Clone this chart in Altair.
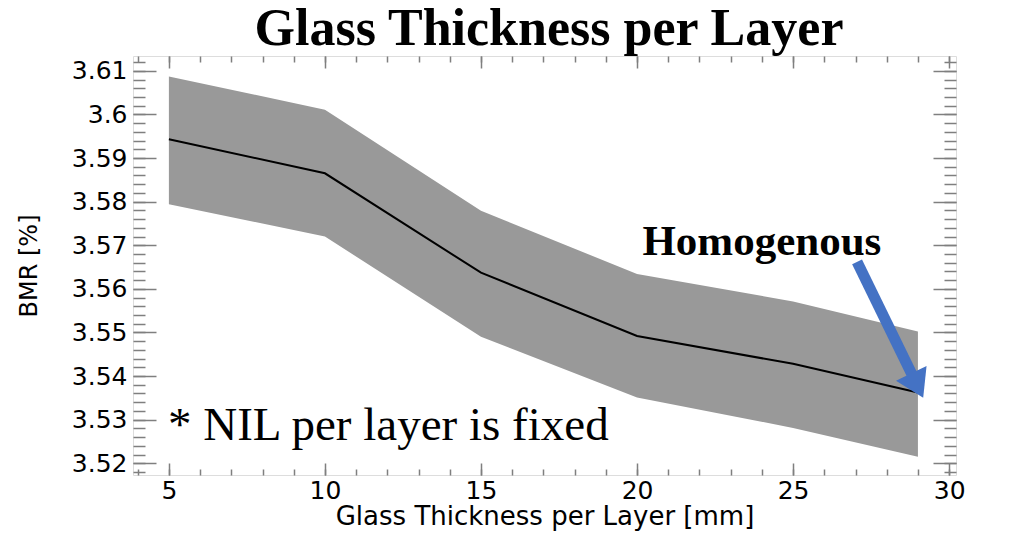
import altair as alt
import pandas as pd

# ---- data ----
thickness = [5, 10, 15, 20, 25, 29]
bmr_mean = [3.5943, 3.5865, 3.5637, 3.5492, 3.5428, 3.5362]
bmr_upper = [3.6087, 3.6011, 3.5779, 3.5634, 3.5571, 3.5502]
bmr_lower = [3.5794, 3.5720, 3.5490, 3.5351, 3.5281, 3.5215]

x_major = [5, 10, 15, 20, 25, 30]
x_minor = list(range(4, 31))
y_major = [3.52, 3.53, 3.54, 3.55, 3.56, 3.57, 3.58, 3.59, 3.60, 3.61]
y_minor = [round(3.518 + 0.002 * i, 3) for i in range(48)]

title_text = ["Glass Thickness per Layer"]
x_title = "Glass Thickness per Layer [mm]"
y_title = "BMR [%]"

note_text = ["* NIL per layer is fixed"]
note_x = [4.97]
note_y = [3.5254]

homog_text = ["Homogenous"]
homog_x = [24.0]
homog_y = [3.5678]

arrow_x = [27.05]
arrow_y = [3.5662]
arrow_x2 = [28.80]
arrow_y2 = [3.5405]
head_x = [28.93]
head_y = [3.5385]

# ---- layout ----
W, H = 823, 419
TICK = "#7f7f7f"
SANS = "DejaVu Sans"
SERIF = "Liberation Serif"

df = pd.DataFrame({"t": thickness, "mean": bmr_mean, "lo": bmr_lower, "hi": bmr_upper})

xs = alt.Scale(domain=[3.85, 30.22], nice=False, zero=False)
ys = alt.Scale(domain=[3.5173, 3.6134], nice=False, zero=False)


def tick_axis(orient, offset, values, size):
    return alt.Axis(orient=orient, offset=offset, values=values, tickSize=size,
                    labels=False, domain=False, grid=False, title=None,
                    tickColor=TICK, tickWidth=1.5)


area = alt.Chart(df).mark_area(color="#999999", opacity=1).encode(
    x=alt.X("t:Q", scale=xs, axis=alt.Axis(
        orient="bottom", values=x_major, ticks=False, domain=False, grid=False,
        labelFont=SANS, labelFontSize=25, labelPadding=3, labelColor="black",
        title=x_title, titleFont=SANS, titleFontSize=26, titleFontWeight="normal",
        titleColor="black", titlePadding=0)),
    y=alt.Y("lo:Q", scale=ys, axis=alt.Axis(
        orient="left", values=y_major, ticks=False, domain=False, grid=False,
        format=".2~f", labelFont=SANS, labelFontSize=25, labelPadding=6,
        labelColor="black", title=y_title, titleFont=SANS, titleFontSize=24,
        titleFontWeight="normal", titleColor="black", titlePadding=30)),
    y2="hi:Q",
)

line = alt.Chart(df).mark_line(color="black", strokeWidth=2).encode(
    x=alt.X("t:Q", scale=xs, axis=tick_axis("top", -H, x_major, 12)),
    y=alt.Y("mean:Q", scale=ys, axis=tick_axis("right", -W, y_major, 23)),
)

p_minor_lb = alt.Chart(df).mark_point(opacity=0).encode(
    x=alt.X("t:Q", scale=xs, axis=tick_axis("top", -H, x_minor, 6)),
    y=alt.Y("mean:Q", scale=ys, axis=tick_axis("right", -W, y_minor, 12)),
)

p_major_rt = alt.Chart(df).mark_point(opacity=0).encode(
    x=alt.X("t:Q", scale=xs, axis=tick_axis("bottom", -H, x_major, 12)),
    y=alt.Y("mean:Q", scale=ys, axis=tick_axis("left", -W, y_major, 23)),
)

p_minor_rt = alt.Chart(df).mark_point(opacity=0).encode(
    x=alt.X("t:Q", scale=xs, axis=tick_axis("bottom", -H, x_minor, 6)),
    y=alt.Y("mean:Q", scale=ys, axis=tick_axis("left", -W, y_minor, 12)),
)

title_df = pd.DataFrame({"text": title_text})
title = alt.Chart(title_df).mark_text(
    font=SERIF, fontSize=52, fontWeight="bold", align="center",
    baseline="alphabetic", color="black"
).encode(
    x=alt.value(416),
    y=alt.value(-11),
    text="text:N",
)

note_df = pd.DataFrame({"x": note_x, "y": note_y, "text": note_text})
note = alt.Chart(note_df).mark_text(
    font=SERIF, fontSize=47, align="left", baseline="alphabetic", color="black"
).encode(
    x=alt.X("x:Q", scale=xs, axis=None),
    y=alt.Y("y:Q", scale=ys, axis=None),
    text="text:N",
)

homog_df = pd.DataFrame({"x": homog_x, "y": homog_y, "text": homog_text})
homog = alt.Chart(homog_df).mark_text(
    font=SERIF, fontSize=43, fontWeight="bold", align="center",
    baseline="alphabetic", color="black"
).encode(
    x=alt.X("x:Q", scale=xs, axis=None),
    y=alt.Y("y:Q", scale=ys, axis=None),
    text="text:N",
)

arrow_df = pd.DataFrame({"x": arrow_x, "y": arrow_y, "x2": arrow_x2, "y2": arrow_y2})
shaft = alt.Chart(arrow_df).mark_rule(color="#4472C4", strokeWidth=11, strokeCap="butt").encode(
    x=alt.X("x:Q", scale=xs, axis=None),
    y=alt.Y("y:Q", scale=ys, axis=None),
    x2="x2:Q",
    y2="y2:Q",
)

head_df = pd.DataFrame({"x": head_x, "y": head_y})
head = alt.Chart(head_df).mark_point(
    shape="M0,-1L1,0.6L-1,0.6Z", size=1156, angle=154, filled=True,
    color="#4472C4", opacity=1, strokeWidth=0
).encode(
    x=alt.X("x:Q", scale=xs, axis=None),
    y=alt.Y("y:Q", scale=ys, axis=None),
)

chart = alt.layer(
    area, line, p_minor_lb, p_major_rt, p_minor_rt, note, homog, shaft, head, title
).resolve_axis(
    x="independent", y="independent"
).properties(
    width=W,
    height=H,
    autosize=alt.AutoSizeParams(type="none"),
    padding={"left": 125, "top": 48, "right": 45, "bottom": 60},
).configure_view(
    stroke="#8c8c8c", strokeWidth=2
).configure(background="white")

chart.save("out.html", embed_options={"renderer": "svg", "actions": False})
